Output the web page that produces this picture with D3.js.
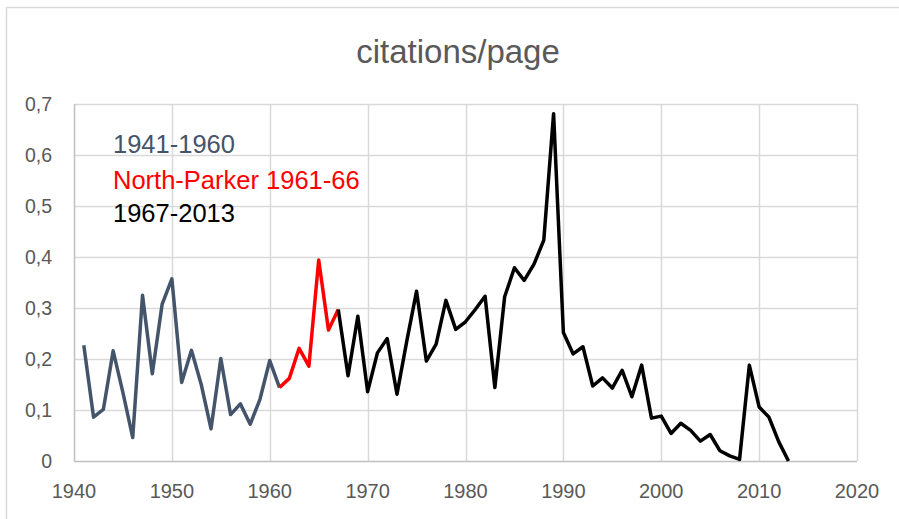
<!DOCTYPE html>
<html>
<head>
<meta charset="utf-8">
<script src="https://cdn.jsdelivr.net/npm/d3@7"></script>
<style>
  body { margin: 0; background: #fff; }
  text { font-family: "Liberation Sans", Arial, sans-serif; }
</style>
</head>
<body>
<div id="chart"></div>
<script>
// Data (one value per year, 1941-2013)
const firstYear = 1941;
const values = [
  0.227, 0.086, 0.101, 0.216, 0.134, 0.046, 0.325, 0.171, 0.307, 0.357,   // 1941-1950
  0.154, 0.217, 0.150, 0.063, 0.201, 0.091, 0.112, 0.072, 0.121, 0.197,   // 1951-1960
  0.144, 0.162, 0.221, 0.186, 0.394, 0.257, 0.297, 0.167, 0.284, 0.136,   // 1961-1970
  0.212, 0.240, 0.131, 0.235, 0.333, 0.196, 0.229, 0.315, 0.258, 0.273,   // 1971-1980
  0.297, 0.323, 0.144, 0.322, 0.379, 0.354, 0.386, 0.433, 0.681, 0.252,   // 1981-1990
  0.210, 0.224, 0.147, 0.163, 0.143, 0.178, 0.126, 0.188, 0.084, 0.088,   // 1991-2000
  0.054, 0.074, 0.060, 0.039, 0.052, 0.020, 0.010, 0.003, 0.188, 0.106,   // 2001-2010
  0.086, 0.038, 0.000                                                       // 2011-2013
];
const periods = [
  { label: "1941-1960", from: 1941, to: 1961, color: "#44546a" },
  { label: "North-Parker 1961-66", from: 1961, to: 1967, color: "#ff0000" },
  { label: "1967-2013", from: 1967, to: 2013, color: "#000000" }
];
const xTicks = [1940, 1950, 1960, 1970, 1980, 1990, 2000, 2010, 2020];
const yTicks = [0, 0.1, 0.2, 0.3, 0.4, 0.5, 0.6, 0.7];

const width = 899, height = 519;
const data = values.map((v, i) => ({ year: firstYear + i, value: v }));

const svg = d3.select("#chart").append("svg")
    .attr("width", width)
    .attr("height", height);

// chart area border (only left/top visible)
svg.append("rect")
    .attr("x", 6.5).attr("y", 7.5)
    .attr("width", width).attr("height", height)
    .attr("fill", "none")
    .attr("stroke", "#d9d9d9")
    .attr("stroke-width", 1.5);

const x = d3.scaleLinear().domain([1940, 2020]).range([74, 857]);
const y = d3.scaleLinear().domain([0, 0.7]).range([461, 104]);

// gridlines
svg.append("g").selectAll("line")
    .data(yTicks.filter(d => d > 0))
    .enter().append("line")
    .attr("x1", x(1940)).attr("x2", x(2020))
    .attr("y1", d => Math.round(y(d)) + 0.5).attr("y2", d => Math.round(y(d)) + 0.5)
    .attr("stroke", "#d9d9d9").attr("stroke-width", 1.5);

svg.append("g").selectAll("line")
    .data(xTicks.filter(d => d > 1940))
    .enter().append("line")
    .attr("x1", d => Math.round(x(d)) + 0.5).attr("x2", d => Math.round(x(d)) + 0.5)
    .attr("y1", y(0.7)).attr("y2", y(0))
    .attr("stroke", "#d9d9d9").attr("stroke-width", 1.5);

// axis lines
svg.append("line")
    .attr("x1", x(1940) + 0.5).attr("x2", x(1940) + 0.5)
    .attr("y1", y(0.7)).attr("y2", y(0))
    .attr("stroke", "#bfbfbf").attr("stroke-width", 1.5);
svg.append("line")
    .attr("x1", x(1940)).attr("x2", x(2020))
    .attr("y1", y(0) + 0.5).attr("y2", y(0) + 0.5)
    .attr("stroke", "#bfbfbf").attr("stroke-width", 1.5);

// tick labels
const fmt = d => d === 0 ? "0" : d3.format(".1f")(d).replace(".", ",");
svg.append("g").selectAll("text")
    .data(yTicks)
    .enter().append("text")
    .attr("x", 52)
    .attr("y", d => y(d))
    .attr("dy", "0.35em")
    .attr("text-anchor", "end")
    .attr("font-size", 19.5)
    .attr("fill", "#595959")
    .text(fmt);

svg.append("g").selectAll("text")
    .data(xTicks)
    .enter().append("text")
    .attr("x", d => x(d))
    .attr("y", 498)
    .attr("text-anchor", "middle")
    .attr("font-size", 20)
    .attr("fill", "#595959")
    .text(d => d);

// title
svg.append("text")
    .attr("x", 458).attr("y", 63)
    .attr("text-anchor", "middle")
    .attr("font-size", 33)
    .attr("fill", "#595959")
    .text("citations/page");

// lines
const line = d3.line()
    .x(d => x(d.year))
    .y(d => y(d.value));

periods.forEach(p => {
    svg.append("path")
        .datum(data.filter(d => d.year >= p.from && d.year <= p.to))
        .attr("d", line)
        .attr("fill", "none")
        .attr("stroke", p.color)
        .attr("stroke-width", 3.5)
        .attr("stroke-linejoin", "round");
});

// legend texts
svg.append("g").selectAll("text")
    .data(periods)
    .enter().append("text")
    .attr("x", 113)
    .attr("y", (d, i) => [153, 189, 222][i])
    .attr("font-size", 25.5)
    .attr("fill", d => d.color)
    .text(d => d.label);
</script>
</body>
</html>
